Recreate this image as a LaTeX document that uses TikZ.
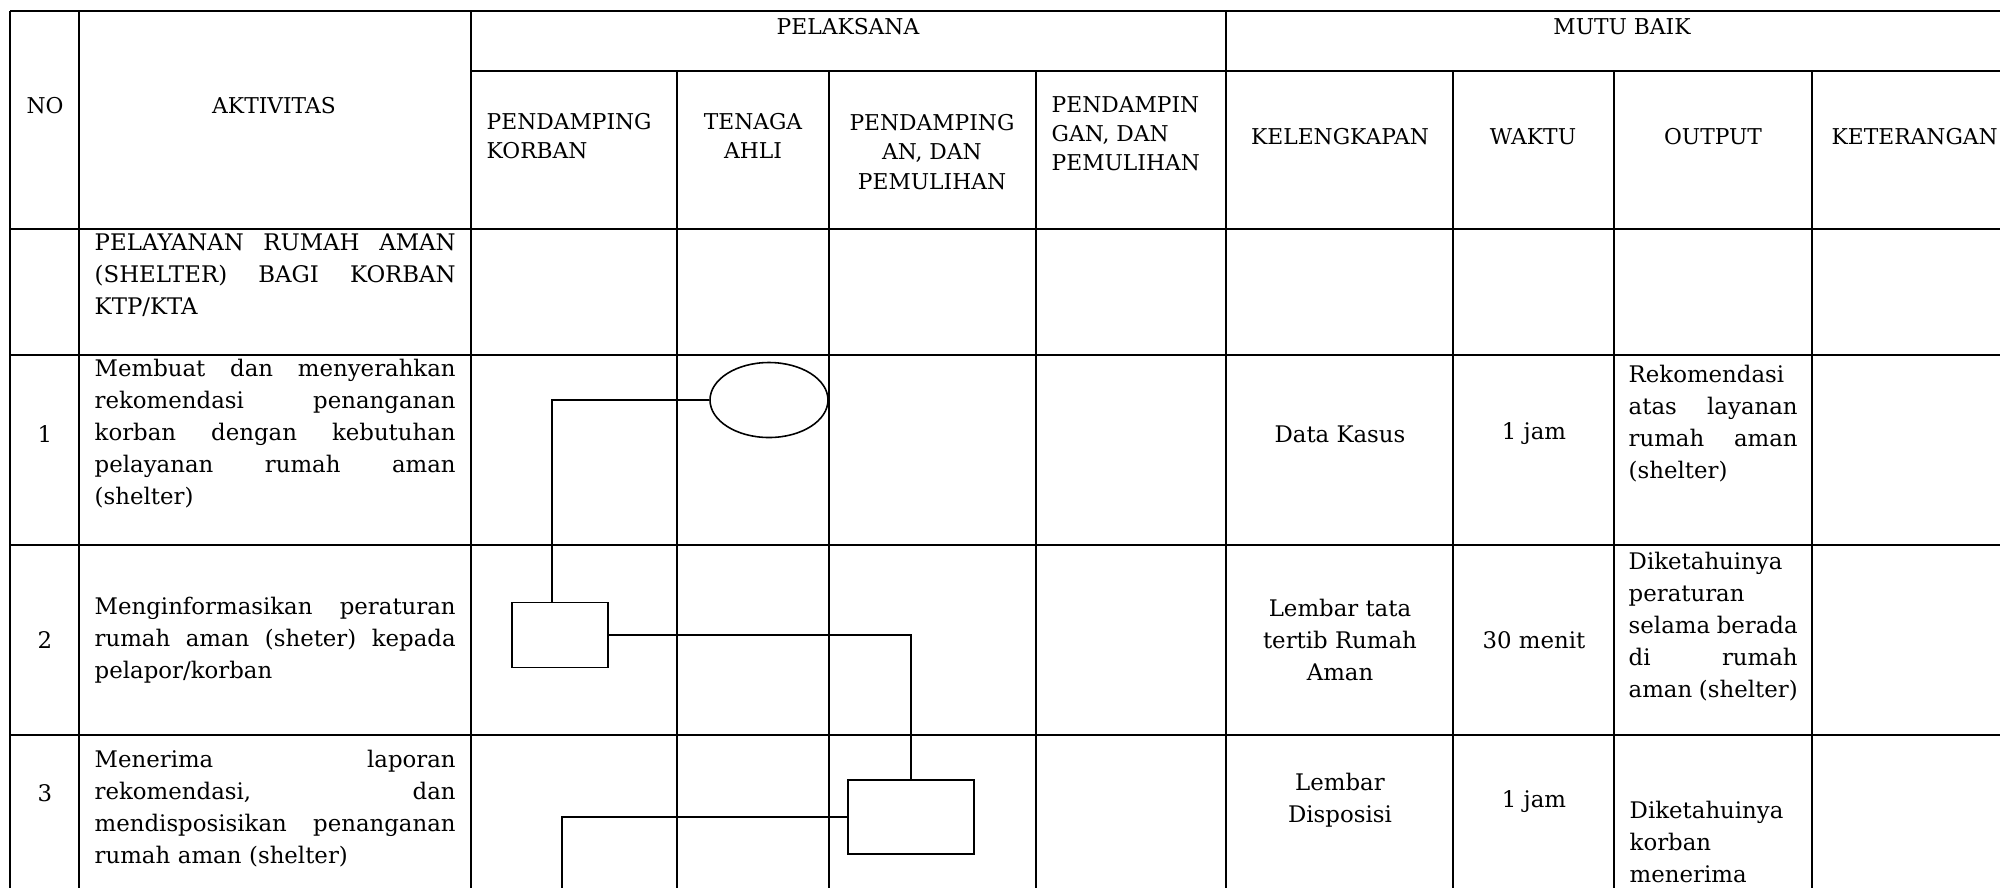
\documentclass[tikz,border=0pt]{standalone}
\usepackage{fontspec}
\setmainfont{DejaVu Serif}
\usetikzlibrary{shapes.geometric,calc}

\newlength{\aktw}\setlength{\aktw}{36.1mm}
\newlength{\outw}\setlength{\outw}{16.9mm}
\newcommand{\jline}[2]{{\spaceskip=0pt\xspaceskip=0pt\makebox[#1][s]{#2}}}

\begin{document}
\begin{tikzpicture}[x=0.1mm,y=-0.1mm,
      tabline/.style={line width=0.75pt},
      link/.style={line width=0.4pt},
      hd/.style={inner sep=0pt,font=\fontsize{6.2}{8.3}\selectfont,align=center},
      hdl/.style={hd,anchor=west,align=left},
      txt/.style={inner sep=0pt,font=\fontsize{6.5}{9.1}\selectfont,align=center},
      akt/.style={txt,anchor=west,text width=\aktw,align=left},
      outp/.style={txt,anchor=west,text width=\outw,align=left},
      proc/.style={draw,line width=0.45pt,rectangle,inner sep=0pt},
      term/.style={draw,line width=0.45pt,ellipse,inner sep=0pt,
        minimum width=11.8mm,minimum height=7.5mm}]

      \useasboundingbox (0,0) rectangle (2000,887);
      \clip (0,0) rectangle (2000,887);

      \draw[tabline] (10,11) -- (2000,11);
      \draw[tabline] (471,71) -- (2000,71);
      \draw[tabline] (10,229) -- (2000,229);
      \draw[tabline] (10,355) -- (2000,355);
      \draw[tabline] (10,545) -- (2000,545);
      \draw[tabline] (10,735) -- (2000,735);
      \draw[tabline] (10,11) -- (10,900);
      \draw[tabline] (79,11) -- (79,900);
      \draw[tabline] (471,11) -- (471,900);
      \draw[tabline] (677,71) -- (677,900);
      \draw[tabline] (829,71) -- (829,900);
      \draw[tabline] (1036,71) -- (1036,900);
      \draw[tabline] (1226,11) -- (1226,900);
      \draw[tabline] (1453,71) -- (1453,900);
      \draw[tabline] (1614,71) -- (1614,900);
      \draw[tabline] (1812,71) -- (1812,900);

      \node[hd] (no) at (45,106) {NO};
      \node[hd] (aktivitas) at (274,106) {AKTIVITAS};
      \node[hd] (pelaksana) at (848,27) {PELAKSANA};
      \node[hd] (mutu) at (1622,27) {MUTU BAIK};
      \node[hdl] (pk) at (486,136) {PENDAMPING\\KORBAN};
      \node[hd] (ahli) at (753,136) {TENAGA\\AHLI};
      \node[hd] (pp1) at (932,152) {PENDAMPING\\AN, DAN\\PEMULIHAN};
      \node[hdl] (pp2) at (1051,134) {PENDAMPIN\\GAN, DAN\\PEMULIHAN};
      \node[hd] (kel) at (1340,137) {KELENGKAPAN};
      \node[hd] (waktu) at (1533,137) {WAKTU};
      \node[hd] (output) at (1713,137) {OUTPUT};
      \node[hdl] (ket) at (1831,137) {KETERANGAN};

      \node[akt] (judul) at (94,275) {\jline{\aktw}{PELAYANAN RUMAH AMAN}\\
        \jline{\aktw}{(SHELTER) BAGI KORBAN}\\KTP/KTA};

      \node[txt] (n1) at (45,434) {1};
      \node[akt] (a1) at (94,434) {\jline{\aktw}{Membuat dan menyerahkan}\\
        \jline{\aktw}{rekomendasi penanganan}\\
        \jline{\aktw}{korban dengan kebutuhan}\\
        \jline{\aktw}{pelayanan rumah aman}\\(shelter)};
      \node[txt] (k1) at (1340,434) {Data Kasus};
      \node[txt] (w1) at (1534,434) {1 jam};
      \node[outp] (o1) at (1628,424) {Rekomendasi\\
        \jline{\outw}{atas layanan}\\
        \jline{\outw}{rumah aman}\\(shelter)};

      \node[txt] (n2) at (45,640) {2};
      \node[akt] (a2) at (94,640) {\jline{\aktw}{Menginformasikan peraturan}\\
        \jline{\aktw}{rumah aman (sheter) kepada}\\pelapor/korban};
      \node[txt] (k2) at (1340,640) {Lembar tata\\tertib Rumah\\Aman};
      \node[txt] (w2) at (1534,640) {30 menit};
      \node[outp] (o2) at (1628,627) {Diketahuinya\\peraturan\\
        \jline{\outw}{selama berada}\\
        \jline{\outw}{di rumah}\\
        \jline{\outw}{aman (shelter)}};

      \node[txt] (n3) at (45,793) {3};
      \node[akt] (a3) at (94,809) {\jline{\aktw}{Menerima laporan}\\
        \jline{\aktw}{rekomendasi, dan}\\
        \jline{\aktw}{mendisposisikan penanganan}\\rumah aman (shelter)};
      \node[txt] (k3) at (1340,800) {Lembar\\Disposisi};
      \node[txt] (w3) at (1534,802) {1 jam};
      \node[outp,anchor=north west] (o3) at (1629,800) {Diketahuinya\\korban\\menerima};

      \node[term] (start) at (769,400) {};
      \node[proc,minimum width=9.6mm,minimum height=6.5mm] (box2) at (560,635) {};
      \node[proc,minimum width=12.6mm,minimum height=7.4mm] (box3) at (911,817) {};
      \coordinate (nxt) at (562,900);

      \draw[link] (start.west) -| ($(box2.north)+(-8,0)$);
      \draw[link] (box2.east) -| (box3.north);
      \draw[link] (box3.west) -| (nxt);
\end{tikzpicture}
\end{document}
